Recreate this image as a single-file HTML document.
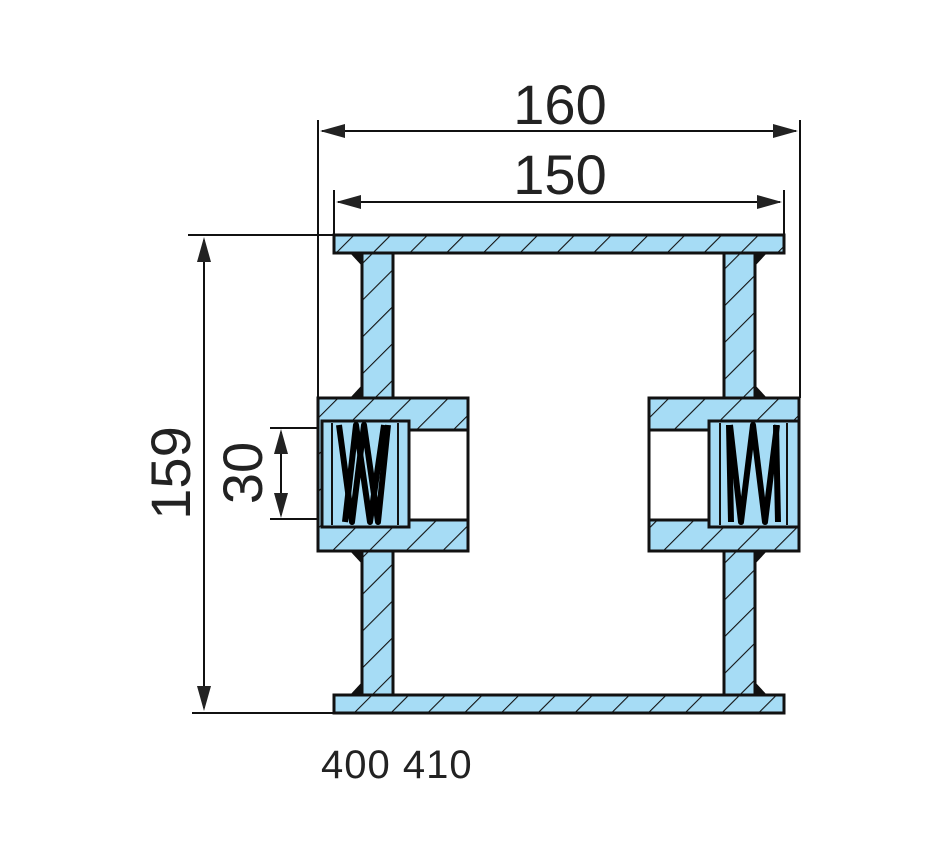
<!DOCTYPE html>
<html><head><style>body{margin:0;background:#fff}svg{display:block}</style></head><body>
<svg width="950" height="860" viewBox="0 0 950 860" xmlns="http://www.w3.org/2000/svg">
<defs>
<pattern id="h" patternUnits="userSpaceOnUse" width="26" height="26" patternTransform="rotate(45)">
<rect width="26" height="26" fill="#a6dcf5"/>
<line x1="0" y1="0" x2="0" y2="26" stroke="#111" stroke-width="2.2"/>
</pattern>
</defs>
<g font-family="Liberation Sans, sans-serif" fill="#222" font-size="56">
<text x="560" y="124" text-anchor="middle">160</text>
<text x="560" y="194" text-anchor="middle">150</text>
<text transform="translate(190,473) rotate(-90)" text-anchor="middle">159</text>
<text transform="translate(262,473) rotate(-90)" text-anchor="middle">30</text>
<text x="321" y="778" font-size="40" letter-spacing="1">400 410</text>
</g>
<g stroke="#111" stroke-width="2" fill="none">
<line x1="318" y1="120" x2="318" y2="398"/>
<line x1="800" y1="120" x2="800" y2="398"/>
<line x1="334" y1="190" x2="334" y2="235"/>
<line x1="784" y1="190" x2="784" y2="235"/>
<line x1="322" y1="131" x2="796" y2="131"/>
<line x1="338" y1="202" x2="780" y2="202"/>
<line x1="188" y1="235" x2="334" y2="235"/>
<line x1="192" y1="713" x2="334" y2="713"/>
<line x1="204" y1="240" x2="204" y2="708"/>
<line x1="270" y1="428" x2="322" y2="428"/>
<line x1="270" y1="519" x2="322" y2="519"/>
<line x1="281" y1="432" x2="281" y2="515"/>
</g>
<g fill="#222">
<polygon points="320,131 345,124 345,138"/>
<polygon points="798,131 773,124 773,138"/>
<polygon points="336,202 361,195 361,209"/>
<polygon points="782,202 757,195 757,209"/>
<polygon points="204,237 197,262 211,262"/>
<polygon points="204,711 197,686 211,686"/>
<polygon points="281,429 274,454 288,454"/>
<polygon points="281,518 274,493 288,493"/>
</g>
<g stroke="#111" stroke-width="3" fill="url(#h)">
<rect x="334" y="235" width="450" height="18"/>
<rect x="334" y="695" width="450" height="18"/>
<rect x="362" y="253" width="31" height="145"/>
<rect x="362" y="551" width="31" height="144"/>
<rect x="724" y="253" width="31" height="145"/>
<rect x="724" y="551" width="31" height="144"/>
<rect x="318" y="398" width="150" height="153"/>
<rect x="649" y="398" width="150" height="153"/>
</g>
<g stroke="#111" stroke-width="3">
<rect x="409" y="430" width="59" height="90" fill="#fff"/>
<rect x="649" y="430" width="60" height="90" fill="#fff"/>
<rect x="322" y="421" width="87" height="106" fill="#a6dcf5"/>
<rect x="709" y="421" width="90" height="106" fill="#a6dcf5"/>
</g>
<g stroke="#111" stroke-width="2" fill="none">
<line x1="332" y1="423" x2="332" y2="525"/><line x1="398" y1="423" x2="398" y2="525"/>
<line x1="720" y1="423" x2="720" y2="525"/><line x1="787" y1="423" x2="787" y2="525"/>
</g>
<g stroke="#000" stroke-width="6" fill="none" stroke-linejoin="round">
<polyline points="339,425 352,522 364,425 378,522 388,425"/>
<polyline points="345,522 356,425 370,522 384,425"/>
<polyline points="730,425 741,522 753,425 765,522 777,425"/>
<line x1="729" y1="425" x2="731" y2="522"/><line x1="776" y1="425" x2="778" y2="522"/>
</g>
<g fill="#111">
<polygon points="350,253 362,253 362,266"/>
<polygon points="350,398 362,398 362,385"/>
<polygon points="350,551 362,551 362,564"/>
<polygon points="350,695 362,695 362,682"/>
<polygon points="767,253 755,253 755,266"/>
<polygon points="767,398 755,398 755,385"/>
<polygon points="767,551 755,551 755,564"/>
<polygon points="767,695 755,695 755,682"/>
</g>
</svg>
</body></html>
